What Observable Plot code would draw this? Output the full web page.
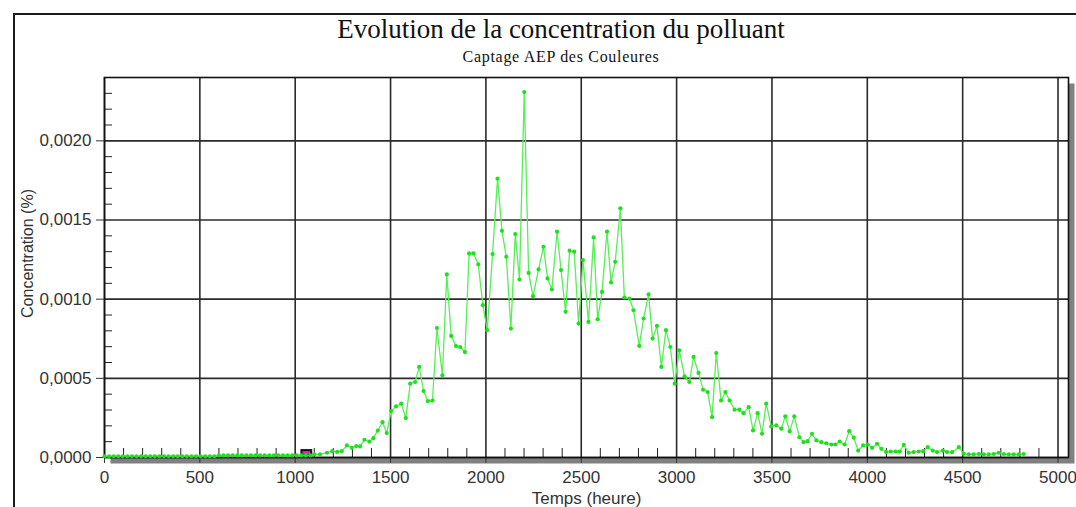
<!DOCTYPE html>
<html><head><meta charset="utf-8">
<script src="https://cdn.jsdelivr.net/npm/d3@7"></script>
<script src="https://cdn.jsdelivr.net/npm/@observablehq/plot@0.6"></script>
<style>
html,body{margin:0;padding:0;background:#fff;width:1076px;height:507px;overflow:hidden;}
#page{position:relative;width:1076px;height:507px;}
#border{position:absolute;left:13px;top:13px;width:1100px;height:600px;border-top:2px solid #1a1a1a;border-left:2px solid #1a1a1a;pointer-events:none;}
#header{height:70px;position:relative;}
#title{position:absolute;top:16px;left:0;width:1122px;text-align:center;font-family:"Liberation Serif","Times New Roman",serif;font-size:27px;line-height:27px;color:#111;}
#subtitle{position:absolute;top:49px;left:0;width:1122px;text-align:center;font-family:"Liberation Serif","Times New Roman",serif;font-size:16px;line-height:16px;letter-spacing:0.7px;color:#111;}
#chart svg{display:block;}
</style></head>
<body><div id="page">
<div id="header"><div id="title"></div><div id="subtitle"></div></div>
<div id="chart"></div>
<div id="border"></div>
</div>
<script>
const titleText = "Evolution de la concentration du polluant";
const subtitleText = "Captage AEP des Couleures";
const xLabel = "Temps (heure)";
const yLabel = "Concentration (%)";

const xMajorTicks = [0,500,1000,1500,2000,2500,3000,3500,4000,4500,5000];
const xMinorTicks = [100,200,300,400,600,700,800,900,1100,1200,1300,1400,1600,1700,1800,1900,2100,2200,2300,2400,2600,2700,2800,2900,3100,3200,3300,3400,3600,3700,3800,3900,4100,4200,4300,4400,4600,4700,4800,4900];
const yMajorTicks = [0,0.0005,0.001,0.0015,0.002];
const yMinorTicks = [0.0001,0.0002,0.0003,0.0004,0.0006,0.0007,0.0008,0.0009,0.0011,0.0012,0.0013,0.0014,0.0016,0.0017,0.0018,0.0019,0.0021,0.0022,0.0023];

// Temps (heure)
const times = [
0,24,48,72,96,120,144,168,192,216,240,264,288,312,336,360,384,408,432,456,480,504,528,552,576,
600,624,648,672,696,720,744,768,792,816,840,864,888,912,936,960,984,1008,1032,1056,1080,
1100,1130,1167,1194,1220,1244,1271,1297,1320,1340,1363,1389,1410,1433,1458,1480,
1503,1529,1556,1580,1603,1629,1650,1673,1696,1720,1743,1772,1795,1818,1843,1865,1890,1912,1935,1960,1984,
2007,2035,2061,2084,2107,2131,2154,2176,2201,2224,2247,2276,2302,2323,2346,2373,2394,2418,2439,2463,2486,
2509,2538,2565,2586,2609,2635,2656,2678,2705,2726,2753,2774,2804,2827,2853,2874,2897,2920,2944,2967,2990,
3014,3042,3067,3089,3115,3139,3163,3186,3208,3233,3256,3278,3304,3329,3351,3378,3401,3425,3448,3470,3496,
3523,3549,3570,3593,3617,3644,3666,3687,3710,3733,3759,3785,3812,3833,3855,3881,3905,3929,3952,3978,
4002,4025,4051,4074,4099,4123,4149,4170,4191,4217,4243,4270,4293,4317,4343,4366,4396,4418,4445,4480,
4506,4532,4558,4585,4611,4637,4663,4689,4716,4742,4768,4794,4820
];
// Concentration (%)
const concentration = [
0.000008,0.000008,0.000008,0.000008,0.000008,0.000008,0.000008,0.000008,0.000008,0.000008,0.000008,0.000008,0.000008,0.000008,0.000008,0.000008,0.000008,0.000008,0.000008,0.000008,0.000008,0.000008,0.000008,0.000008,0.000008,
0.000013,0.000013,0.000013,0.000013,0.000013,0.000013,0.000013,0.000013,0.000013,0.000013,0.000013,0.000013,0.000013,0.000013,0.000013,0.000013,0.000013,0.000013,0.000013,0.000013,0.000013,
0.00002,0.00002,0.00003,0.00004,0.000035,0.00004,0.000076,0.000061,0.000072,0.00007,0.000112,0.0001,0.000122,0.00017,0.000223,0.000154,
0.000293,0.000323,0.00034,0.000249,0.000466,0.000477,0.000572,0.00042,0.000356,0.00036,0.000818,0.000519,0.001156,0.000768,0.000704,0.000698,0.000666,0.001289,0.001289,0.00122,0.000962,
0.000804,0.001285,0.001761,0.001432,0.001268,0.000814,0.001411,0.001124,0.002308,0.001166,0.001019,0.001188,0.001331,0.001131,0.001061,0.001426,0.001184,0.00092,0.001306,0.0013,0.000846,
0.001247,0.000856,0.00139,0.000873,0.001046,0.001426,0.001106,0.001236,0.001574,0.00101,0.001004,0.00093,0.000705,0.000878,0.00103,0.000751,0.000831,0.000572,0.000804,0.000698,0.000466,
0.000677,0.000513,0.000477,0.000635,0.000534,0.000428,0.000413,0.000255,0.00066,0.00036,0.000413,0.00036,0.000302,0.000302,0.00028,0.000318,0.000171,0.00028,0.00015,0.00034,0.000196,
0.000203,0.000182,0.00026,0.000165,0.00026,0.000128,0.000097,0.000103,0.00015,0.000108,0.000097,0.00009,0.000082,0.000082,0.000101,0.000082,0.000166,0.000125,0.000044,0.000076,
0.000082,0.000061,0.000087,0.000055,0.000034,0.000038,0.000038,0.000038,0.00008,0.00003,0.000034,0.000038,0.00004,0.000065,0.000044,0.000034,0.000044,0.000034,0.000034,0.000065,
0.000023,0.00002,0.00002,0.000022,0.00002,0.00002,0.000022,0.00003,0.000022,0.00002,0.00002,0.00002,0.000022
];

// small marker drawn on the axis near 1050 h
const markerStart = [1030];
const markerEnd = [1092];
const markerTop = [0.00005];

const data = times.map((t, i) => ({t, c: concentration[i]}));
const marker = markerStart.map((s, i) => ({x1: s, x2: markerEnd[i], y2: markerTop[i]}));

document.getElementById("title").textContent = titleText;
document.getElementById("subtitle").textContent = subtitleText;

const fmtY = d => d3.format(".4f")(d).replace(".", ",");
const ink = "#333";

const chart = Plot.plot({
  width: 1076, height: 437,
  marginLeft: 104, marginRight: 8, marginTop: 7, marginBottom: 50,
  x: {domain: [0, 5055], axis: null},
  y: {domain: [0, 0.0024], axis: null},
  style: {fontFamily: "'Liberation Sans', Arial, sans-serif", background: "transparent", color: ink},
  marks: [
    Plot.frame({fill: "#808080", dx: 6, dy: 6}),
    Plot.frame({fill: "#fff"}),
    Plot.gridX({ticks: xMajorTicks, stroke: "#2a2a2a", strokeOpacity: 1, strokeWidth: 1.6}),
    Plot.gridY({ticks: yMajorTicks, stroke: "#2a2a2a", strokeOpacity: 1, strokeWidth: 1.6}),
    Plot.axisX({ticks: xMajorTicks, tickSize: 6, tickPadding: 7, fontSize: 17, color: ink, tickFormat: d => String(d), label: null}),
    Plot.axisX({ticks: xMinorTicks, tickSize: 9, dy: -9, tickFormat: () => "", color: "#222", label: null}),
    Plot.axisY({ticks: yMajorTicks, tickSize: 8, tickPadding: 5, fontSize: 17, color: ink, tickFormat: fmtY, label: null}),
    Plot.axisY({ticks: yMinorTicks, tickSize: 8, dx: 8, tickFormat: () => "", color: "#222", label: null}),
    Plot.frame({stroke: "#111", strokeWidth: 1.6}),
    Plot.rect(marker, {x1: "x1", x2: "x2", y1: 0, y2: "y2", fill: "#111"}),
    Plot.rect(marker, {x1: "x1", x2: "x2", y1: 0, y2: "y2", fill: "#e020c0", insetLeft: 2, insetRight: 2, insetTop: 2, insetBottom: 3}),
    Plot.line(data, {x: "t", y: "c", stroke: "#55f055", strokeWidth: 1.3}),
    Plot.dot(data, {x: "t", y: "c", r: 2.1, fill: "#1ee01e", stroke: "none"}),
    Plot.text([yLabel], {frameAnchor: "left", textAnchor: "middle", lineAnchor: "middle", rotate: -90, dx: -77, dy: -14, fontSize: 16, fill: ink}),
    Plot.text([xLabel], {frameAnchor: "bottom", textAnchor: "middle", lineAnchor: "middle", dy: 41, fontSize: 17, fill: ink})
  ]
});
document.getElementById("chart").appendChild(chart);
</script>
</body></html>
